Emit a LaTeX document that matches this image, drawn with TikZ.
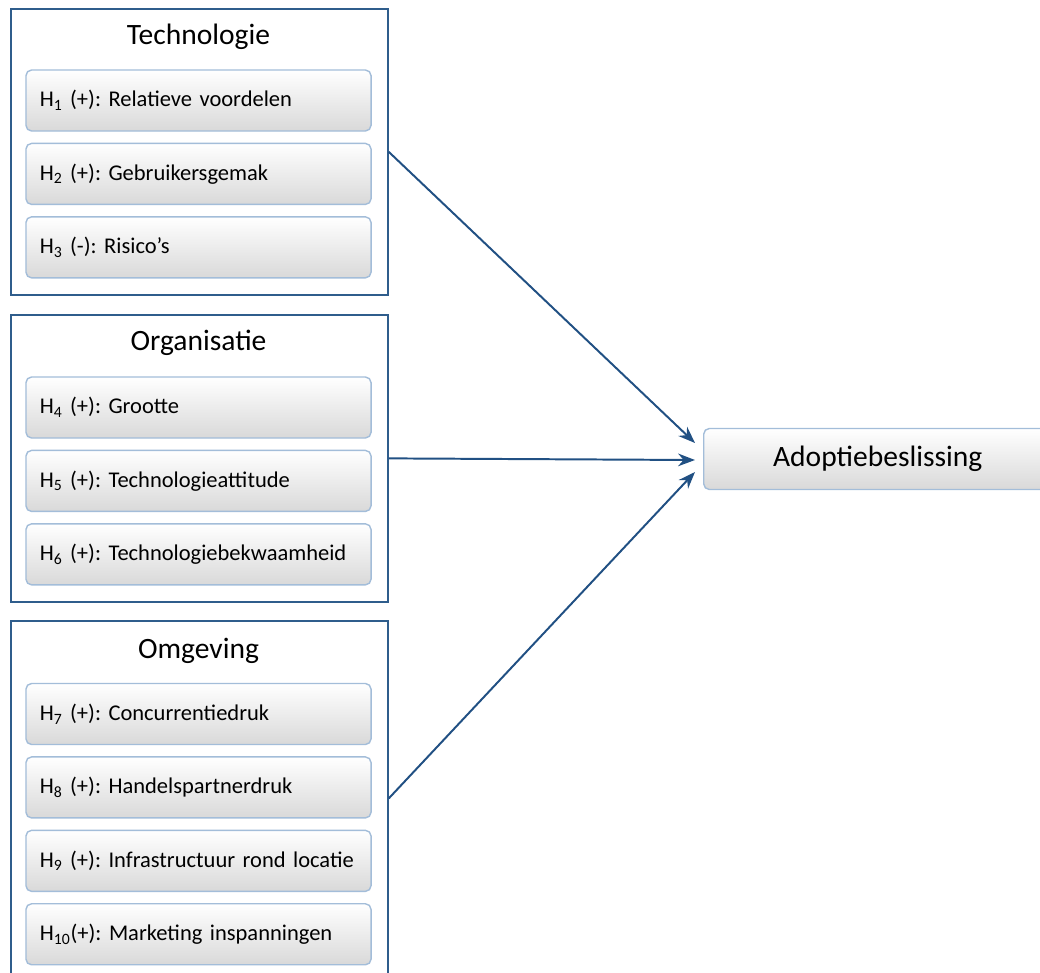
\documentclass[tikz,border=0pt]{standalone}
\usepackage{fontspec}
\setmainfont{Carlito}
\usetikzlibrary{arrows.meta,positioning}

\definecolor{frameblue}{HTML}{2F5D8C}
\definecolor{itemline}{HTML}{A3BDD9}
\definecolor{arrowblue}{HTML}{215083}

\frenchspacing

\begin{document}
\begin{tikzpicture}
[x=0.025cm,y=-0.025cm,
group/.style={rectangle,draw=frameblue,line width=1.2pt,fill=white,
minimum width=9.425cm,anchor=north west,inner sep=0pt},
item/.style={rectangle,rounded corners=4pt,draw=itemline,line width=1pt,
top color=white,bottom color=black!15,minimum width=8.625cm,minimum height=1.525cm,
text width=7.925cm,inner xsep=0.35cm,align=left,font=\fontsize{16}{18}\selectfont},
title/.style={font=\fontsize{21}{24}\selectfont},
node distance=0.275cm,
link/.style={->,>={Stealth[length=12pt,width=9pt]},draw=arrowblue,line width=1.4pt}]

\useasboundingbox (0,0) rectangle (1040,973);

% Technologie
\node[group,minimum height=7.15cm] (technologie) at (10,8) {};
\node[title] (ttech) at (198.5,37) {Technologie};
\node[item] (h1) at (198.5,100.5) {H\textsubscript{1} (+): Relatieve voordelen};
\node[item] (h2) [below=of h1] {H\textsubscript{2} (+): Gebruikersgemak};
\node[item] (h3) [below=of h2] {H\textsubscript{3} (-): Risico’s};

% Organisatie
\node[group,minimum height=7.175cm] (organisatie) at (10,314) {};
\node[title] (torg) at (198.5,343) {Organisatie};
\node[item] (h4) at (198.5,407.5) {H\textsubscript{4} (+): Grootte};
\node[item] (h5) [below=of h4] {H\textsubscript{5} (+): Technologieattitude};
\node[item] (h6) [below=of h5] {H\textsubscript{6} (+): Technologiebekwaamheid};

% Omgeving
\node[group,minimum height=8.875cm] (omgeving) at (10,620) {};
\node[title] (tomg) at (198.5,651) {Omgeving};
\node[item] (h7) at (198.5,714) {H\textsubscript{7} (+): Concurrentiedruk};
\node[item] (h8) [below=of h7] {H\textsubscript{8} (+): Handelspartnerdruk};
\node[item] (h9) [below=of h8] {H\textsubscript{9} (+): Infrastructuur rond locatie};
\node[item] (h10) [below=of h9] {H\textsubscript{10}(+): Marketing inspanningen};

% beslissing
\node[item,anchor=west,minimum width=8.7cm,text width=8cm,align=center,
font=\fontsize{21}{24}\selectfont] (adoptie) at (703,459) {Adoptiebeslissing};

\draw[link] (technologie.east) -- ([shift={(-8,-16)}]adoptie.west);
\draw[link] (organisatie.east) -- ([shift={(-8,1)}]adoptie.west);
\draw[link] (omgeving.east) -- ([shift={(-8,13)}]adoptie.west);

\end{tikzpicture}
\end{document}
